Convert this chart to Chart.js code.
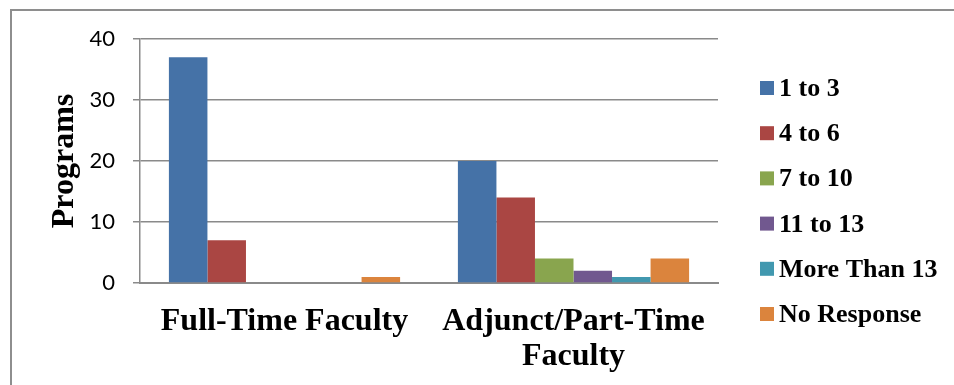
<!DOCTYPE html>
<html>
<head>
<meta charset="utf-8">
<script src="https://cdn.jsdelivr.net/npm/chart.js@4/dist/chart.umd.min.js"></script>
<style>
  html, body { margin: 0; padding: 0; background: #fff; }
  #wrap { position: relative; width: 954px; height: 385px; overflow: hidden; }
  #frame { position: absolute; left: 10px; top: 9px; width: 1000px; height: 400px;
           border-left: 2px solid #8e8e8e; border-top: 2px solid #8e8e8e; }
  canvas { position: absolute; left: 0; top: 0; }
</style>
</head>
<body>
<div id="wrap">
  <div id="frame"></div>
  <canvas id="chart" width="954" height="385"></canvas>
</div>
<script>
// Faculty groups on the x axis
const categories = ['Full-Time Faculty', ['Adjunct/Part-Time', 'Faculty']];

// Number of programs reporting each staffing range
const seriesNames = ['1 to 3', '4 to 6', '7 to 10', '11 to 13', 'More Than 13', 'No Response'];
const seriesColors = ['#4572A7', '#AA4643', '#89A54E', '#71588F', '#4198AF', '#DB843D'];
const oneToThree   = [37, 20];
const fourToSix    = [7, 14];
const sevenToTen   = [0, 4];
const elevenToThirteen = [0, 2];
const moreThanThirteen = [0, 1];
const noResponse   = [1, 4];
const seriesValues = [oneToThree, fourToSix, sevenToTen, elevenToThirteen, moreThanThirteen, noResponse];

// Value axis ticks
const yTicks = [0, 10, 20, 30, 40];

const SERIF = '"Liberation Serif", "Times New Roman", serif';

// Legend drawn in the right-hand margin from the dataset list
const sideLegend = {
  id: 'sideLegend',
  afterDraw(chart) {
    const ctx = chart.ctx;
    const fs = 26;
    ctx.save();
    ctx.font = 'bold ' + fs + 'px ' + SERIF;
    ctx.textAlign = 'left';
    ctx.textBaseline = 'alphabetic';
    chart.data.datasets.forEach((ds, i) => {
      const cy = 88 + i * 45.2;
      ctx.fillStyle = ds.backgroundColor;
      ctx.fillRect(760, cy - 7, 14, 14);
      ctx.fillStyle = '#000';
      ctx.fillText(ds.label, 779, cy + fs * 0.31);
    });
    ctx.restore();
  }
};

new Chart(document.getElementById('chart'), {
  type: 'bar',
  data: {
    labels: categories,
    datasets: seriesNames.map((name, i) => ({
      label: name,
      data: seriesValues[i],
      backgroundColor: seriesColors[i],
      borderWidth: 0,
      categoryPercentage: 0.8,
      barPercentage: 1.0
    }))
  },
  options: {
    responsive: false,
    animation: false,
    layout: { padding: { left: 0, right: 236, top: 39, bottom: 0 } },
    plugins: {
      legend: { display: false },
      tooltip: { enabled: false }
    },
    scales: {
      x: {
        afterFit(s) { s.height = 102; },
        grid: { display: false, drawTicks: false },
        border: { display: true, color: '#8a8a8a', width: 2 },
        ticks: {
          color: '#000',
          padding: 21,
          font: { family: SERIF, size: 32, weight: 'bold', lineHeight: 1.1 }
        }
      },
      y: {
        min: 0,
        max: 40,
        afterFit(s) { s.width = 140; },
        afterBuildTicks(s) { s.ticks = yTicks.map(v => ({ value: v })); },
        grid: { color: '#8a8a8a', lineWidth: 1.5, drawTicks: true, tickLength: 7, tickColor: '#8a8a8a' },
        border: { display: true, color: '#8a8a8a', width: 1.5 },
        ticks: {
          color: '#000',
          padding: 18,
          font: { family: 'Lato, "Liberation Sans", sans-serif', size: 22 }
        },
        title: {
          display: true,
          text: 'Programs',
          color: '#000',
          padding: { top: 46, bottom: 0 },
          font: { family: SERIF, size: 32, weight: 'bold' }
        }
      }
    }
  },
  plugins: [sideLegend]
});
</script>
</body>
</html>
